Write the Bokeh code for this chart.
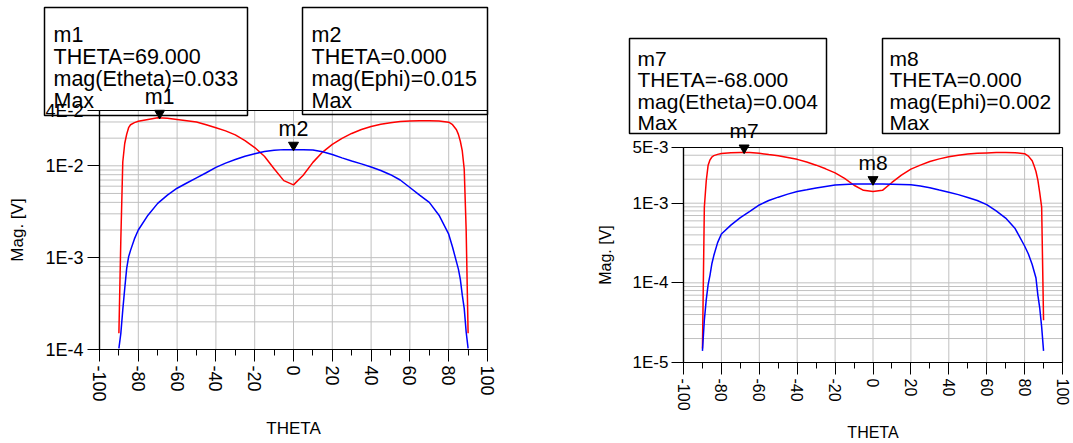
import math
from bokeh.plotting import figure
from bokeh.models import (FixedTicker, Range1d, Label, LabelSet, BoxAnnotation,
                          ColumnDataSource)
from bokeh.core.properties import value
from bokeh.layouts import row
from bokeh.embed import file_html
from bokeh.resources import INLINE

# ---------------- data ----------------
theta = [-90, -89, -88, -87, -86, -85, -84, -82, -80, -75, -70, -65, -60, -55, -50,
         -45, -40, -35, -30, -25, -20, -15, -10, -5, 0, 5, 10, 15, 20, 25, 30, 35,
         40, 45, 50, 55, 60, 65, 70, 75, 80, 82, 84, 85, 86, 87, 88, 89, 90]

left_etheta = [1.5e-4, 1.6e-3, 1.1e-2, 1.75e-2, 2.2e-2, 2.6e-2, 2.8e-2, 2.95e-2, 3.05e-2,
               3.2e-2, 3.34e-2, 3.3e-2, 3.2e-2, 3.1e-2, 3.0e-2, 2.8e-2, 2.6e-2, 2.4e-2,
               2.17e-2, 1.88e-2, 1.58e-2, 1.27e-2, 9.3e-3, 6.9e-3, 6.2e-3, 7.9e-3,
               1.09e-2, 1.41e-2, 1.71e-2, 1.99e-2, 2.25e-2, 2.48e-2, 2.68e-2, 2.83e-2,
               2.95e-2, 3.03e-2, 3.08e-2, 3.10e-2, 3.10e-2, 3.08e-2, 2.98e-2, 2.8e-2,
               2.47e-2, 2.2e-2, 1.85e-2, 1.45e-2, 9.2e-3, 2.0e-3, 1.5e-4]

left_ephi = [1.03e-4, 1.5e-4, 2.7e-4, 4.6e-4, 7.6e-4, 1.02e-3, 1.2e-3, 1.6e-3, 2.0e-3,
             2.9e-3, 3.9e-3, 4.8e-3, 5.7e-3, 6.5e-3, 7.4e-3, 8.4e-3, 9.6e-3, 1.07e-2,
             1.17e-2, 1.27e-2, 1.35e-2, 1.43e-2, 1.48e-2, 1.50e-2, 1.50e-2, 1.50e-2,
             1.49e-2, 1.42e-2, 1.33e-2, 1.22e-2, 1.13e-2, 1.05e-2, 9.7e-3, 8.9e-3,
             8.0e-3, 7.0e-3, 5.8e-3, 4.8e-3, 4.0e-3, 2.9e-3, 1.8e-3, 1.3e-3, 9.0e-4,
             7.5e-4, 5.8e-4, 3.9e-4, 2.8e-4, 1.55e-4, 1.03e-4]

right_etheta = [1.5e-5, 8.9e-4, 1.9e-3, 3.0e-3, 3.5e-3, 3.8e-3, 3.95e-3, 4.1e-3, 4.2e-3,
                4.3e-3, 4.34e-3, 4.32e-3, 4.22e-3, 4.08e-3, 3.95e-3, 3.75e-3, 3.55e-3,
                3.28e-3, 3.0e-3, 2.7e-3, 2.4e-3, 2.05e-3, 1.68e-3, 1.45e-3, 1.40e-3,
                1.45e-3, 1.82e-3, 2.25e-3, 2.68e-3, 3.0e-3, 3.33e-3, 3.6e-3, 3.83e-3,
                4.0e-3, 4.13e-3, 4.22e-3, 4.28e-3, 4.32e-3, 4.34e-3, 4.3e-3, 4.18e-3,
                3.9e-3, 3.4e-3, 2.95e-3, 2.5e-3, 1.95e-3, 1.35e-3, 8.9e-4, 3.4e-5]

right_ephi = [1.4e-5, 3.4e-5, 6.1e-5, 9.5e-5, 1.25e-4, 1.75e-4, 2.2e-4, 3.2e-4, 4.1e-4,
              5.3e-4, 6.6e-4, 7.9e-4, 9.5e-4, 1.08e-3, 1.19e-3, 1.30e-3, 1.40e-3,
              1.47e-3, 1.55e-3, 1.62e-3, 1.69e-3, 1.72e-3, 1.74e-3, 1.74e-3, 1.74e-3,
              1.74e-3, 1.73e-3, 1.72e-3, 1.70e-3, 1.64e-3, 1.56e-3, 1.46e-3, 1.37e-3,
              1.28e-3, 1.18e-3, 1.08e-3, 9.6e-4, 8.0e-4, 6.5e-4, 4.8e-4, 2.9e-4,
              2.3e-4, 1.7e-4, 1.4e-4, 1.15e-4, 7.0e-5, 4.8e-5, 2.8e-5, 1.4e-5]

x_ticks = [-100, -80, -60, -40, -20, 0, 20, 40, 60, 80, 100]
x_tick_labels = ["-100", "-80", "-60", "-40", "-20", "0", "20", "40", "60", "80", "100"]
x_minor_ticks = [-90, -70, -50, -30, -10, 10, 30, 50, 70, 90]

left_y_ticks = [1e-4, 1e-3, 1e-2, 4e-2]
left_y_labels = ["1E-4", "1E-3", "1E-2", "4E-2"]
right_y_ticks = [1e-5, 1e-4, 1e-3, 5e-3]
right_y_labels = ["1E-5", "1E-4", "1E-3", "5E-3"]

left_markers = ["m1", "m2"]
left_marker_theta = [-69, 0]
left_marker_val = [0.0334, 0.0150]
right_markers = ["m7", "m8"]
right_marker_theta = [-68, 0]
right_marker_val = [0.00434, 0.00174]

left_box_texts = [["m1", "THETA=69.000", "mag(Etheta)=0.033", "Max"],
                  ["m2", "THETA=0.000", "mag(Ephi)=0.015", "Max"]]
right_box_texts = [["m7", "THETA=-68.000", "mag(Etheta)=0.004", "Max"],
                   ["m8", "THETA=0.000", "mag(Ephi)=0.002", "Max"]]

x_label = "THETA"
y_label = "Mag. [V]"

FONT = "Liberation Sans"
GRID = "#c0c0c0"


def log_minor(lo, hi):
    out = []
    e = math.floor(math.log10(lo))
    while 10 ** e < hi:
        for k in range(2, 10):
            v = k * 10 ** e
            if lo < v < hi:
                out.append(v)
        e += 1
    return out


def panel(width, height, fl, fr, ft, fb, y_lo, y_hi, y_ticks, y_labels,
          etheta, ephi, mk_names, mk_theta, mk_val, box_texts, box_rects,
          text_x, first_base, line_gap, box_font, tick_font, ytick_font, axis_font,
          ylab_standoff, ytick_standoff, xlab_standoff):
    # pixel layout -> data ranges so that the plotting box lands where it should
    sx = (fr - fl) / 200.0
    x0 = -100 - fl / sx
    x1 = 100 + (width - fr) / sx
    ppd = (fb - ft) / (math.log10(y_hi) - math.log10(y_lo))
    ltop = math.log10(y_hi) + ft / ppd
    lbot = math.log10(y_lo) - (height - fb) / ppd

    def dx(px):
        return x0 + px / sx

    def dy(py):
        return 10 ** (ltop - py / ppd)

    p = figure(width=width, height=height, x_range=Range1d(x0, x1),
               y_range=Range1d(10 ** lbot, 10 ** ltop), y_axis_type="log",
               output_backend="svg", toolbar_location=None,
               min_border_left=0, min_border_right=0, min_border_top=0,
               min_border_bottom=0)
    p.background_fill_color = "white"
    p.border_fill_color = "white"
    p.outline_line_color = None
    p.xgrid.visible = False
    p.ygrid.visible = False

    # axes fixed at the plotting box edges
    p.xaxis.fixed_location = y_lo
    p.yaxis.fixed_location = -100
    p.xaxis.bounds = (-100, 100)
    p.yaxis.bounds = (y_lo, y_hi)
    p.xaxis.ticker = FixedTicker(ticks=x_ticks, minor_ticks=x_minor_ticks)
    p.xaxis.major_label_overrides = dict(zip(x_ticks, x_tick_labels))
    p.xaxis.major_label_orientation = -math.pi / 2
    y_minor = log_minor(y_lo, y_hi)
    p.yaxis.ticker = FixedTicker(ticks=y_ticks, minor_ticks=y_minor)
    p.yaxis.major_label_overrides = dict(zip(y_ticks, y_labels))
    for ax in (p.xaxis, p.yaxis):
        ax.axis_line_color = "black"
        ax.axis_line_width = 1.2
        ax.major_tick_line_color = "black"
        ax.major_tick_in = 0
        ax.major_tick_out = 12
        ax.major_label_text_font = FONT
        ax.major_label_text_color = "black"
        ax.axis_label_text_font = FONT
        ax.axis_label_text_font_style = "normal"
        ax.axis_label_text_color = "black"
        ax.axis_label_text_font_size = axis_font
    p.xaxis.minor_tick_line_color = "black"
    p.xaxis.minor_tick_in = 0
    p.xaxis.minor_tick_out = 6
    p.yaxis.minor_tick_line_color = None
    p.xaxis.major_label_text_font_size = tick_font
    p.yaxis.major_label_text_font_size = ytick_font
    p.xaxis.major_label_standoff = 4
    p.yaxis.major_label_standoff = ytick_standoff
    p.xaxis.axis_label = x_label
    p.yaxis.axis_label = y_label
    p.xaxis.axis_label_standoff = xlab_standoff
    p.yaxis.axis_label_standoff = ylab_standoff

    # grid lines, limited to the plotting box
    vx = [t for t in x_ticks if -100 < t < 100]
    p.segment(x0=vx, y0=[y_lo] * len(vx), x1=vx, y1=[y_hi] * len(vx),
              line_color=GRID, line_width=1)
    hy = sorted(y_ticks + y_minor)
    p.segment(x0=[-100] * len(hy), y0=hy, x1=[100] * len(hy), y1=hy,
              line_color=GRID, line_width=1)

    # curves
    p.line(theta, etheta, line_color="#ff0000", line_width=1.5)
    p.line(theta, ephi, line_color="#0000ff", line_width=1.5)

    # plotting box border
    p.add_layout(BoxAnnotation(left=-100, right=100, bottom=y_lo, top=y_hi,
                               fill_alpha=0, line_color="black", line_width=1.2,
                               line_alpha=1))

    # markers (apex of the triangle at the data point)
    tri_y = [v * 10 ** (4.5 / ppd) for v in mk_val]
    src = ColumnDataSource(dict(x=mk_theta, y=mk_val, ty=tri_y, name=mk_names))
    p.scatter("x", "ty", source=src, marker="inverted_triangle", size=10,
              fill_color="black", line_color="black")
    p.add_layout(LabelSet(x="x", y="y", text="name", source=src, y_offset=14,
                          text_align="center", text_baseline="alphabetic",
                          text_font=value(FONT), text_font_size=box_font,
                          text_color="black"))

    # marker read-out boxes
    for (l, t, r, b), tx, lines in zip(box_rects, text_x, box_texts):
        p.add_layout(BoxAnnotation(left=dx(l), right=dx(r), top=dy(t), bottom=dy(b),
                                   fill_alpha=0, line_color="black", line_width=1.5,
                                   line_alpha=1))
        for i, s in enumerate(lines):
            p.add_layout(Label(x=dx(tx), y=dy(first_base + i * line_gap), text=s,
                               text_font=FONT, text_font_size=box_font,
                               text_baseline="alphabetic", text_align="left",
                               text_color="black"))
    return p


p1 = panel(560, 443, 99, 487, 110, 349, 1e-4, 4e-2, left_y_ticks, left_y_labels,
           left_etheta, left_ephi, left_markers, left_marker_theta, left_marker_val,
           left_box_texts, [(44, 7, 247, 115), (302, 7, 487, 114)], [53, 311],
           34, 22.3, "21.5px", "18px", "18px", "17px", 15, 4, 14)

p2 = panel(513, 443, 123, 502, 147, 362, 1e-5, 5e-3, right_y_ticks, right_y_labels,
           right_etheta, right_ephi, right_markers, right_marker_theta, right_marker_val,
           right_box_texts, [(69, 38, 266, 133), (322, 38, 499, 133)], [77, 329],
           58.3, 21.1, "21px", "16px", "17px", "16px", 16, 3, 10)

layout = row(p1, p2)
open("out.html", "w").write(file_html(layout, INLINE))
